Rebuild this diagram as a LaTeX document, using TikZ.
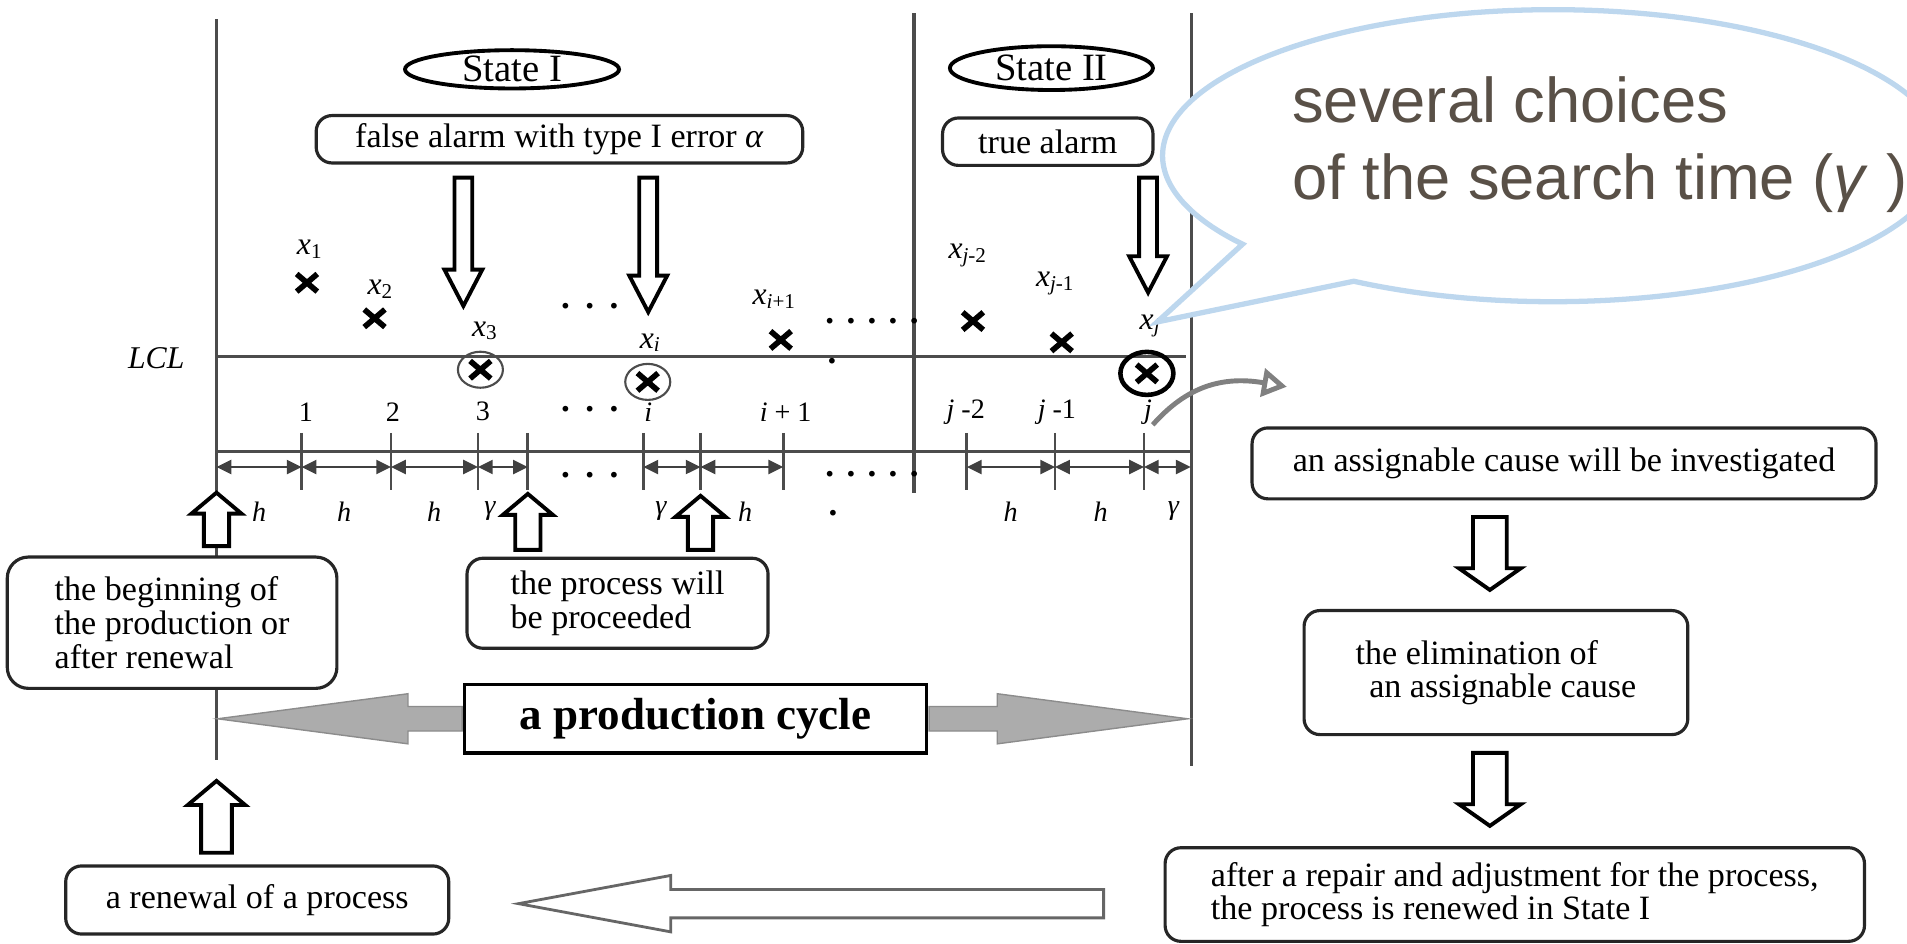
\documentclass[tikz,border=0pt]{standalone}
\usepackage{fontspec}
\setmainfont{Liberation Serif}
\newfontfamily\calloutfont{Liberation Sans}
\usepackage{tikz}
\usetikzlibrary{shapes.geometric, shapes.arrows, shapes.misc, shapes.callouts}
\usetikzlibrary{arrows.meta}
\usetikzlibrary{positioning}
\definecolor{calloutblue}{RGB}{189,215,238}
\definecolor{callouttext}{RGB}{89,80,71}
\definecolor{cyclegray}{RGB}{172,172,172}
\tikzstyle{box} = [draw=black!85, line width=0.9pt, rounded corners=4.5pt, fill=white, inner sep=0pt, align=left]
\tikzstyle{statelabel} = [ellipse, draw=black, line width=1.1pt, inner sep=0pt, font=\fontsize{11}{13}\selectfont]
\tikzstyle{chartline} = [black!70, line width=0.9pt]
\tikzstyle{tickline} = [black!70, line width=0.8pt]
\tikzstyle{dimarrow} = [black!75, line width=0.6pt, {Triangle[length=4.2pt,width=4pt]}-{Triangle[length=4.2pt,width=4pt]}]
\tikzstyle{xmark} = [cross out, draw=black, line width=1.6pt, minimum width=0.15cm, minimum height=0.12cm, inner sep=0pt]
\tikzstyle{ring} = [ellipse, draw=black!70, line width=0.6pt, inner sep=0pt, minimum width=0.45cm, minimum height=0.36cm]
\tikzstyle{xname} = [font=\fontsize{9}{10}\selectfont, inner sep=0pt]
\tikzstyle{tlabel} = [font=\fontsize{8}{10}\selectfont, inner sep=0pt]
\tikzstyle{dotrow} = [font=\bfseries\fontsize{10}{10}\selectfont, inner sep=0pt]
\tikzstyle{alarm} = [single arrow, draw=black, line width=1.1pt, fill=white, inner sep=0.07cm, single arrow head extend=0.1cm, single arrow tip angle=55, shape border rotate=270, anchor=tip]
\tikzstyle{startup} = [single arrow, draw=black, line width=1.1pt, fill=white, inner sep=0.107cm, single arrow head extend=0.124cm, single arrow tip angle=100, shape border rotate=90, anchor=tip]
\tikzstyle{stepdown} = [single arrow, draw=black, line width=1.1pt, fill=white, inner sep=0.15cm, single arrow head extend=0.14cm, single arrow tip angle=110, shape border rotate=270, minimum height=0.73cm, anchor=tip]
\tikzstyle{cyclearrow} = [single arrow, draw=black!45, fill=cyclegray, inner sep=0.1155cm, single arrow head extend=0.128cm, single arrow tip angle=15, anchor=tail]
\newcommand{\xs}[1]{\textit{x}\textsubscript{#1}}

\begin{document}
\begin{tikzpicture}[x=0.012162cm, y=-0.012162cm, font=\fontsize{9.7}{9.6}\selectfont]
\useasboundingbox (0,0) rectangle (1568,776);

% frame of the chart
\draw[chartline] (178,16) -- (178,458);
\draw[chartline] (178,566) -- (178,625);
\draw[chartline] (751.5,11) -- (751.5,405);
\draw[chartline] (980,11) -- (980,630);
\draw[chartline] (178,293) -- (975,293);
\draw[chartline] (178,371) -- (979,371);
\node[font=\fontsize{9}{10}\selectfont\itshape, inner sep=0pt] (lcl) at (128.5,294.5) {LCL};

% states and alarms
\node[statelabel, minimum width=2.14cm, minimum height=0.383cm] (state1) at (421,57) {State I};
\node[statelabel, minimum width=2.03cm, minimum height=0.438cm] (state2) at (864.5,56) {State II};
\node[box, align=center, minimum width=4.865cm, minimum height=0.474cm] (falsealarm) at (460,114.5) {false alarm with type I error \textit{α}};
\node[box, align=center, minimum width=2.104cm, minimum height=0.474cm] (truealarm) at (861.5,116.5) {true alarm};
\node[alarm, minimum height=1.283cm] (a1) at (381,255) {};
\node[alarm, minimum height=1.344cm] (a2) at (533,260) {};
\node[alarm, minimum height=1.149cm] (a3) at (944,244) {};

% samples
\node[xmark] (m1) at (252.4,232.5) {};
\node[xmark] (m2) at (308,261.7) {};
\node[xmark] (m3) at (395,304) {};
\node[xmark] (mi) at (532.6,314) {};
\node[xmark] (mi1) at (642,279.5) {};
\node[xmark] (mj2) at (800,264) {};
\node[xmark] (mj1) at (873,281.5) {};
\node[xmark] (mj) at (943,307) {};
\node[ring] (r3) at (m3) {};
\node[ring] (ri) at (mi) {};
\node[ring, draw=black, line width=1.3pt, minimum width=0.53cm, minimum height=0.43cm] (rj) at (mj) {};
\node[xname] (x1) at (255,205) {\xs{1}};
\node[xname] (x2) at (313,238) {\xs{2}};
\node[xname] (x3) at (399,272) {\xs{3}};
\node[xname] (xi) at (535,282) {\xs{\textit{i}}};
\node[xname] (xi1) at (637,246) {\xs{\textit{i}+1}};
\node[xname] (xj2) at (796,210) {\xs{\textit{j}-2}};
\node[xname] (xj1) at (868,233) {\xs{\textit{j}-1}};
\node[xname] (xj) at (946,268) {\xs{\textit{j}}};
\node[dotrow] (dA) at (485,252) {.\hspace{4.4pt}.\hspace{4.4pt}.};
\node[dotrow] (dB) at (717,264) {.\hspace{3.5pt}.\hspace{3.5pt}.\hspace{3.5pt}.\hspace{3.5pt}.};
\node[dotrow] (dC) at (684,297) {.};

% time axis
\foreach \n/\x in {0/178,1/248,2/321.5,3/393,4/434,5/529,6/576,7/644,8/795,9/867.5,10/940.6,11/979}
  \coordinate (t\n) at (\x,384);
\foreach \n in {1,...,10}
  \draw[tickline] (t\n) ++(0,-28) -- ++(0,47);
\foreach \a/\b in {0/1,1/2,2/3,3/4,5/6,6/7,8/9,9/10,10/11}
  \draw[dimarrow] (t\a) -- (t\b);
\node[dotrow] (dD) at (485,390.5) {.\hspace{4.4pt}.\hspace{4.4pt}.};
\node[dotrow] (dE) at (717,390) {.\hspace{3.5pt}.\hspace{3.5pt}.\hspace{3.5pt}.\hspace{3.5pt}.};

\node[tlabel] (n1) at (251.6,338.6) {1};
\node[tlabel] (n2) at (323,338.6) {2};
\node[tlabel] (n3) at (397,338.6) {3};
\node[dotrow] (dF) at (485,336) {.\hspace{4.4pt}.\hspace{4.4pt}.};
\node[tlabel] (ni) at (533,338.6) {\textit{i}};
\node[tlabel] (ni1) at (646,338.6) {\textit{i} + 1};
\node[tlabel] (nj2) at (794,338.6) {\textit{j} -2};
\node[tlabel] (nj1) at (869,338.6) {\textit{j} -1};
\node[tlabel] (nj) at (944,338.6) {\textit{j}};

\node[tlabel] (lh1) at (213,421) {\textit{h}};
\node[tlabel] (lh2) at (283,421) {\textit{h}};
\node[tlabel] (lh3) at (357,421) {\textit{h}};
\node[tlabel] (lg1) at (403,420) {\textit{γ}};
\node[tlabel] (lg2) at (543.6,420) {\textit{γ}};
\node[tlabel] (lh4) at (612.6,421) {\textit{h}};
\node[dotrow] (ldot) at (685,422) {.};
\node[tlabel] (lh5) at (831,421) {\textit{h}};
\node[tlabel] (lh6) at (905,421) {\textit{h}};
\node[tlabel] (lg3) at (965,420) {\textit{γ}};

\node[startup, minimum height=0.535cm] (u1) at (178,403) {};
\node[startup, minimum height=0.56cm] (u2) at (434,404) {};
\node[startup, minimum height=0.54cm] (u3) at (576,405.6) {};

% left side
\node[box, rounded corners=6pt, minimum width=3.296cm, minimum height=1.313cm] (begin) at (141.5,512) {the beginning of\\the production or\\after renewal};
\node[box, minimum width=3.01cm, minimum height=0.9cm] (proceed) at (507.75,496) {the process will\\be proceeded};
\node[draw=black, line width=1pt, fill=white, inner sep=0pt, minimum width=4.62cm, minimum height=0.681cm, font=\bfseries\fontsize{12.8}{14}\selectfont] (cycle) at (572,591) {a production cycle};
\node[cyclearrow, shape border rotate=180, minimum height=2.445cm] (cycleleft) at (cycle.west) {};
\node[cyclearrow, minimum height=2.584cm] (cycleright) at (cycle.east) {};
\node[startup, inner sep=0.134cm, single arrow head extend=0.134cm, minimum height=0.718cm] (u0) at (178,640) {};
\node[box, align=center, minimum width=3.83cm, minimum height=0.681cm] (renew) at (211.5,740) {a renewal of a process};

% right side
\node[box, align=center, minimum width=6.239cm, minimum height=0.709cm] (invest) at (1286,381) {an assignable cause will be investigated};
\node[stepdown] (d1) at (1225,487) {};
\node[box, minimum width=3.837cm, minimum height=1.24cm] (elim) at (1230,553) {the elimination of\\\hspace{0.4em}an assignable cause};
\node[stepdown] (d2) at (1225,681) {};
\node[box, minimum width=6.993cm, minimum height=0.936cm] (repair) at (1245.5,735.5) {after a repair and adjustment for the process,\\the process is renewed in State I};
\node[single arrow, draw=black!60, line width=0.8pt, fill=white, inner sep=0.128cm, single arrow head extend=0.14cm, single arrow tip angle=21, shape border rotate=180, minimum height=5.85cm, anchor=tip] (back) at (420,743) {};

% curled arrow from j
\coordinate (curltip) at (1058,318);
\draw[gray, line width=1.4pt, -{Triangle[open, length=7pt, width=8pt]}] (nj.south east) .. controls (972,322) and (1000,308) .. (curltip);

% callout
\coordinate (ptip) at (951.5,264.7);
\node[ellipse callout, draw=calloutblue, line width=1.5pt, fill=white, inner sep=0pt, minimum width=7.81cm, minimum height=2.92cm, callout absolute pointer={(ptip)}, callout pointer arc=22] (bubble) at (1277,128) {};
\node[anchor=west, inner sep=0pt, align=left, text=callouttext, font=\calloutfont\fontsize{18}{21.8}\selectfont] (bubbletext) at (1062,119) {several choices\\of the search time (\textit{γ} )};
\end{tikzpicture}
\end{document}
